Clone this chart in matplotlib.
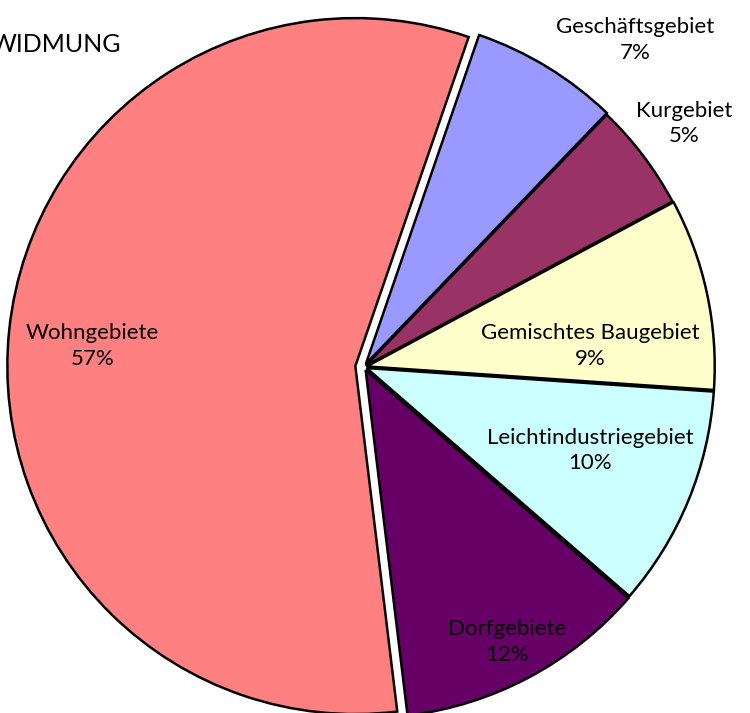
import numpy as np
import matplotlib
matplotlib.use('Agg')
import matplotlib.pyplot as plt

plt.rcParams['font.family'] = ['Lato', 'DejaVu Sans']

# Flächenwidmung, Anteile in %
labels = ['Wohngebiete', 'Dorfgebiete', 'Leichtindustriegebiet',
          'Gemischtes Baugebiet', 'Kurgebiet', 'Geschäftsgebiet']
shares = [57.2, 11.7, 10.3, 8.9, 5.0, 6.9]
colors = ['#FF8080', '#660066', '#CCFFFF', '#FFFFCC', '#993366', '#9999FF']
explode = [0.025, 0.01, 0.008, 0.008, 0.006, 0.01]

# label positions (pie units, centre = 0,0)
label_pos = [(-0.78, 0.06), (0.41, -0.79), (0.65, -0.24),
             (0.65, 0.06), (0.92, 0.70), (0.78, 0.94)]

fig = plt.figure(figsize=(7.5, 7.13), dpi=100)
ax = fig.add_axes([0, 0, 1, 1])

px = 348.0  # radius in pixels
cx, cy = 364.0, 367.0
ax.pie(shares, colors=colors, explode=explode, startangle=71, counterclock=True,
       radius=1.0, wedgeprops=dict(edgecolor='black', linewidth=1.8))

ax.set_xlim(-cx / px, (750 - cx) / px)
ax.set_ylim(-(713 - cy) / px, cy / px)
ax.set_aspect('auto')
ax.axis('off')

total = sum(shares)
for lab, val, (x, y) in zip(labels, shares, label_pos):
    ax.text(x, y, '%s\n%d%%' % (lab, round(val / total * 100)),
            ha='center', va='center', fontsize=16, linespacing=1.35, color='black')

fig.text(-0.012, 0.938, 'WIDMUNG', ha='left', va='center', fontsize=18)

fig.savefig('out.png', dpi=100)
